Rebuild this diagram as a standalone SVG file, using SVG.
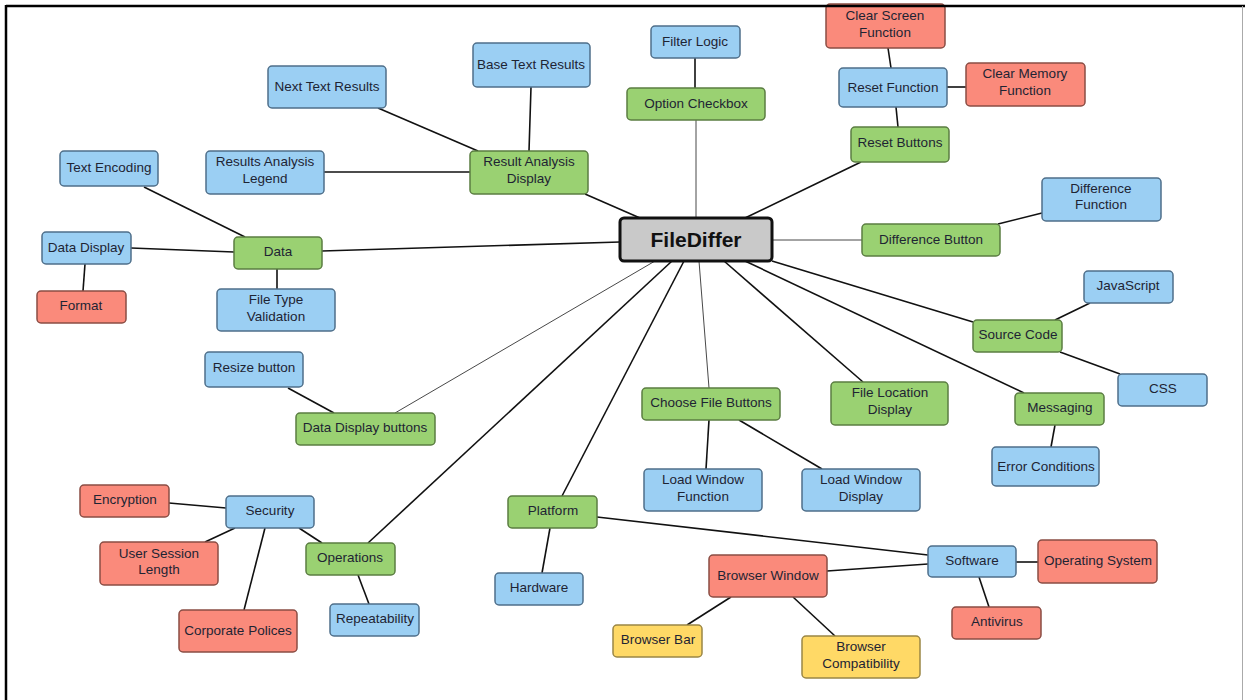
<svg xmlns="http://www.w3.org/2000/svg" width="1245" height="700" viewBox="0 0 1245 700">
<style>
.n rect{stroke-width:1.5}
.b rect{fill:#9bcff3;stroke:#4f6f8a}
.g rect{fill:#9ad172;stroke:#5b7d42}
.r rect{fill:#fa8a7b;stroke:#8a4d44}
.y rect{fill:#ffd966;stroke:#9a8645}
text{font-family:"Liberation Sans",Arial,sans-serif;font-size:13.5px;fill:#1e2433;text-anchor:middle}
.c line{stroke:#111;stroke-width:1.6}
.c line.t{stroke:#333;stroke-width:0.9}
</style>
<rect width="1245" height="700" fill="#fff"/>
<g class="c">
<line x1="378" y1="108" x2="478" y2="151"/>
<line x1="324" y1="172" x2="470" y2="172"/>
<line x1="531" y1="87" x2="529" y2="151"/>
<line x1="585" y1="194" x2="640" y2="218"/>
<line x1="695" y1="58" x2="695" y2="88"/>
<line class="t" x1="696" y1="120" x2="696" y2="218"/>
<line x1="888" y1="48" x2="891" y2="68"/>
<line x1="947" y1="87" x2="966" y2="87"/>
<line x1="896" y1="107" x2="898" y2="127"/>
<line x1="861" y1="162" x2="745" y2="218"/>
<line x1="1042" y1="213" x2="998" y2="224"/>
<line class="t" x1="862" y1="240" x2="772" y2="240"/>
<line x1="322" y1="251" x2="620" y2="242"/>
<line x1="144" y1="187" x2="245" y2="237"/>
<line x1="131" y1="248" x2="234" y2="252"/>
<line x1="85" y1="264" x2="83" y2="291"/>
<line x1="277" y1="269" x2="277" y2="289"/>
<line x1="288" y1="388" x2="334" y2="413"/>
<line class="t" x1="395" y1="413" x2="655" y2="261"/>
<line x1="368" y1="543" x2="672" y2="261"/>
<line x1="169" y1="503" x2="226" y2="508"/>
<line x1="235" y1="528" x2="205" y2="542"/>
<line x1="265" y1="528" x2="244" y2="610"/>
<line x1="299" y1="528" x2="322" y2="543"/>
<line x1="358" y1="575" x2="369" y2="604"/>
<line x1="562" y1="496" x2="684" y2="261"/>
<line class="t" x1="709" y1="388" x2="699" y2="261"/>
<line x1="863" y1="382" x2="724" y2="261"/>
<line x1="1024" y1="393" x2="745" y2="261"/>
<line x1="973" y1="322" x2="772" y2="261"/>
<line x1="1055" y1="320" x2="1090" y2="303"/>
<line x1="1060" y1="352" x2="1120" y2="374"/>
<line x1="1055" y1="425" x2="1051" y2="447"/>
<line x1="709" y1="420" x2="706" y2="469"/>
<line x1="739" y1="420" x2="822" y2="469"/>
<line x1="597" y1="517" x2="928" y2="555"/>
<line x1="550" y1="528" x2="542" y2="573"/>
<line x1="827" y1="571" x2="928" y2="564"/>
<line x1="731" y1="597" x2="687" y2="625"/>
<line x1="793" y1="597" x2="835" y2="636"/>
<line x1="1016" y1="562" x2="1038" y2="562"/>
<line x1="979" y1="577" x2="989" y2="607"/>
</g>
<g id="filediffer"><rect x="620" y="218" width="152" height="43" rx="4" fill="#c9c9c9" stroke="#111" stroke-width="3"/><text x="696" y="247" style="font-size:21px;font-weight:bold;fill:#111">FileDiffer</text></g>
<g id="next-text" class="n b"><rect x="268" y="66" width="118" height="42" rx="4"/><text x="327" y="91">Next Text Results</text></g>
<g id="base-text" class="n b"><rect x="473" y="43" width="117" height="44" rx="4"/><text x="531" y="69">Base Text Results</text></g>
<g id="filter-logic" class="n b"><rect x="651" y="26" width="89" height="32" rx="4"/><text x="695" y="46">Filter Logic</text></g>
<g id="option-checkbox" class="n g"><rect x="627" y="88" width="138" height="32" rx="4"/><text x="696" y="108">Option Checkbox</text></g>
<g id="result-analysis-display" class="n g"><rect x="470" y="151" width="118" height="43" rx="4"/><text x="529" y="166">Result Analysis</text><text x="529" y="183">Display</text></g>
<g id="results-legend" class="n b"><rect x="206" y="151" width="118" height="43" rx="4"/><text x="265" y="166">Results Analysis</text><text x="265" y="183">Legend</text></g>
<g id="text-encoding" class="n b"><rect x="60" y="151" width="98" height="35" rx="4"/><text x="109" y="172">Text Encoding</text></g>
<g id="data-display" class="n b"><rect x="42" y="232" width="89" height="32" rx="4"/><text x="86" y="252">Data Display</text></g>
<g id="data" class="n g"><rect x="234" y="237" width="88" height="32" rx="4"/><text x="278" y="256">Data</text></g>
<g id="format" class="n r"><rect x="37" y="291" width="89" height="32" rx="4"/><text x="81" y="310">Format</text></g>
<g id="file-type" class="n b"><rect x="217" y="289" width="118" height="42" rx="4"/><text x="276" y="304">File Type</text><text x="276" y="321">Validation</text></g>
<g id="clear-screen" class="n r"><rect x="826" y="4" width="119" height="44" rx="4"/><text x="885" y="20">Clear Screen</text><text x="885" y="37">Function</text></g>
<g id="reset-function" class="n b"><rect x="839" y="68" width="108" height="39" rx="4"/><text x="893" y="92">Reset Function</text></g>
<g id="clear-memory" class="n r"><rect x="966" y="63" width="119" height="43" rx="4"/><text x="1025" y="78">Clear Memory</text><text x="1025" y="95">Function</text></g>
<g id="reset-buttons" class="n g"><rect x="851" y="127" width="98" height="35" rx="4"/><text x="900" y="147">Reset Buttons</text></g>
<g id="difference-function" class="n b"><rect x="1042" y="178" width="119" height="43" rx="4"/><text x="1101" y="193">Difference</text><text x="1101" y="209">Function</text></g>
<g id="difference-button" class="n g"><rect x="862" y="224" width="138" height="32" rx="4"/><text x="931" y="244">Difference Button</text></g>
<g id="resize-button" class="n b"><rect x="205" y="352" width="98" height="35" rx="4"/><text x="254" y="372">Resize button</text></g>
<g id="data-display-buttons" class="n g"><rect x="296" y="413" width="139" height="32" rx="4"/><text x="365" y="432">Data Display buttons</text></g>
<g id="encryption" class="n r"><rect x="80" y="485" width="89" height="32" rx="4"/><text x="125" y="504">Encryption</text></g>
<g id="security" class="n b"><rect x="226" y="496" width="88" height="32" rx="4"/><text x="270" y="515">Security</text></g>
<g id="user-session" class="n r"><rect x="100" y="542" width="118" height="43" rx="4"/><text x="159" y="558">User Session</text><text x="159" y="574">Length</text></g>
<g id="operations" class="n g"><rect x="306" y="543" width="89" height="32" rx="4"/><text x="350" y="562">Operations</text></g>
<g id="corporate-polices" class="n r"><rect x="179" y="610" width="118" height="42" rx="4"/><text x="238" y="635">Corporate Polices</text></g>
<g id="repeatability" class="n b"><rect x="330" y="604" width="89" height="32" rx="4"/><text x="375" y="623">Repeatability</text></g>
<g id="choose-file" class="n g"><rect x="642" y="388" width="138" height="32" rx="4"/><text x="711" y="407">Choose File Buttons</text></g>
<g id="file-location" class="n g"><rect x="831" y="382" width="117" height="43" rx="4"/><text x="890" y="397">File Location</text><text x="890" y="414">Display</text></g>
<g id="load-window-function" class="n b"><rect x="644" y="469" width="118" height="42" rx="4"/><text x="703" y="484">Load Window</text><text x="703" y="501">Function</text></g>
<g id="load-window-display" class="n b"><rect x="802" y="469" width="118" height="42" rx="4"/><text x="861" y="484">Load Window</text><text x="861" y="501">Display</text></g>
<g id="platform" class="n g"><rect x="508" y="496" width="89" height="32" rx="4"/><text x="553" y="515">Platform</text></g>
<g id="hardware" class="n b"><rect x="495" y="573" width="88" height="32" rx="4"/><text x="539" y="592">Hardware</text></g>
<g id="browser-window" class="n r"><rect x="709" y="555" width="118" height="42" rx="4"/><text x="768" y="580">Browser Window</text></g>
<g id="browser-bar" class="n y"><rect x="613" y="625" width="89" height="32" rx="4"/><text x="658" y="644">Browser Bar</text></g>
<g id="browser-compat" class="n y"><rect x="802" y="636" width="118" height="42" rx="4"/><text x="861" y="651">Browser</text><text x="861" y="668">Compatibility</text></g>
<g id="javascript" class="n b"><rect x="1084" y="271" width="89" height="32" rx="4"/><text x="1128" y="290">JavaScript</text></g>
<g id="source-code" class="n g"><rect x="973" y="320" width="89" height="32" rx="4"/><text x="1018" y="339">Source Code</text></g>
<g id="css" class="n b"><rect x="1118" y="374" width="89" height="32" rx="4"/><text x="1163" y="393">CSS</text></g>
<g id="messaging" class="n g"><rect x="1015" y="393" width="89" height="32" rx="4"/><text x="1060" y="412">Messaging</text></g>
<g id="error-conditions" class="n b"><rect x="992" y="447" width="107" height="39" rx="4"/><text x="1046" y="471">Error Conditions</text></g>
<g id="software" class="n b"><rect x="928" y="546" width="88" height="31" rx="4"/><text x="972" y="565">Software</text></g>
<g id="operating-system" class="n r"><rect x="1038" y="540" width="119" height="43" rx="4"/><text x="1098" y="565">Operating System</text></g>
<g id="antivirus" class="n r"><rect x="952" y="607" width="89" height="32" rx="4"/><text x="997" y="626">Antivirus</text></g>
<g id="frame">
<line x1="6" y1="6" x2="1245" y2="6" stroke="#000" stroke-width="2.5"/>
<line x1="6" y1="5" x2="6" y2="700" stroke="#000" stroke-width="2.5"/>
<line x1="1242.5" y1="6" x2="1242.5" y2="700" stroke="#aaa" stroke-width="1"/>
</g>
</svg>
